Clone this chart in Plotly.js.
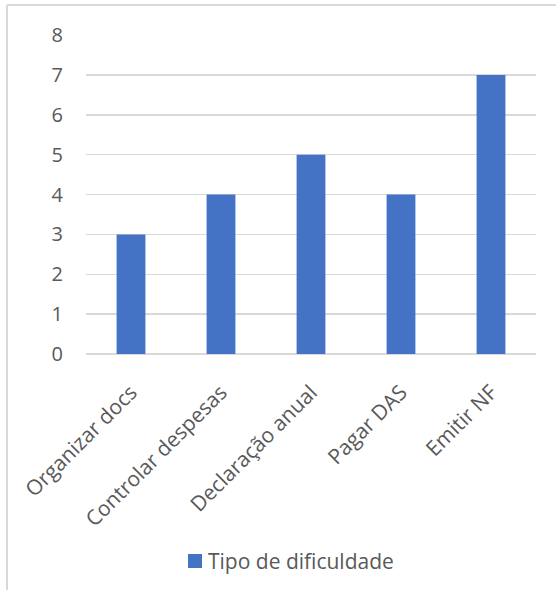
<!DOCTYPE html>
<html>
<head>
<meta charset="utf-8">
<script src="https://cdn.plot.ly/plotly-3.0.1.min.js"></script>
<style>
  html, body { margin: 0; padding: 0; background: #ffffff; }
  #chart { width: 556px; height: 590px; }
</style>
</head>
<body>
<div id="chart"></div>
<script>
// Difficulty categories and how many respondents named each one
const categories = ["Organizar docs", "Controlar despesas", "Declaração anual", "Pagar DAS", "Emitir NF"];
const counts = [3, 4, 5, 4, 7];
const seriesName = "Tipo de dificuldade";
const yTicks = [0, 1, 2, 3, 4, 5, 6, 7, 8];

const textGrey = "#595959";
const gridGrey = "#d9d9d9";
const barBlue = "#4472c4";
const fontFamily = "'Open Sans', 'Noto Sans', sans-serif";

const trace = {
  type: "bar",
  x: categories,
  y: counts,
  name: seriesName,
  marker: { color: barBlue },
  hoverinfo: "x+y",
  showlegend: false
};

const layout = {
  width: 556,
  height: 590,
  margin: { l: 86, r: 20, t: 35, b: 236, pad: 0 },
  paper_bgcolor: "#ffffff",
  plot_bgcolor: "#ffffff",
  bargap: 0.68,
  font: { family: fontFamily, color: textGrey, size: 19 },
  showlegend: false,
  xaxis: {
    type: "category",
    tickangle: -45,
    showgrid: false,
    showline: false,
    zeroline: false,
    ticks: "",
    ticklabelstandoff: 21,
    tickfont: { family: fontFamily, size: 21, color: textGrey }
  },
  yaxis: {
    range: [0, 8],
    tickvals: yTicks,
    ticktext: yTicks.map(String),
    showgrid: true,
    gridcolor: gridGrey,
    gridwidth: 1.5,
    zeroline: true,
    zerolinecolor: gridGrey,
    zerolinewidth: 1.5,
    showline: false,
    ticks: "",
    ticklabelstandoff: 22,
    tickfont: { family: fontFamily, size: 20, color: textGrey }
  },
  shapes: [
    // chart-area frame: left and top edges
    { type: "line", xref: "paper", yref: "paper", x0: -0.1756, x1: -0.1756, y0: 1.094, y1: -1, line: { color: gridGrey, width: 2 } },
    { type: "line", xref: "paper", yref: "paper", x0: -0.1756, x1: 1.2, y0: 1.094, y1: 1.094, line: { color: gridGrey, width: 2 } },
    // legend swatch for the single series
    { type: "rect", xref: "paper", yref: "paper", x0: 0.2267, x1: 0.2578, y0: -0.6708, y1: -0.627, fillcolor: barBlue, line: { width: 0 } }
  ],
  annotations: [
    {
      xref: "paper", yref: "paper", x: 0.2711, y: -0.649,
      xanchor: "left", yanchor: "middle", showarrow: false,
      text: seriesName,
      font: { family: fontFamily, size: 21, color: textGrey },
      borderpad: 0, xshift: -1
    }
  ]
};

Plotly.newPlot("chart", [trace], layout, { displayModeBar: false, staticPlot: true });
</script>
</body>
</html>
